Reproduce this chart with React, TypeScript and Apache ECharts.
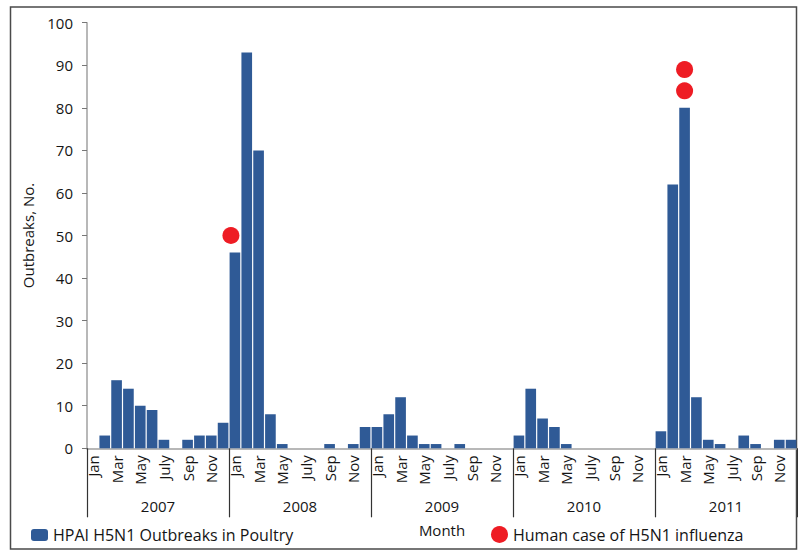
import React, { useEffect, useRef } from "react";
import * as echarts from "echarts";

const years = ["2007", "2008", "2009", "2010", "2011"];
const monthNames = ["Jan", "Feb", "Mar", "Apr", "May", "Jun", "July", "Aug", "Sep", "Oct", "Nov", "Dec"];

const outbreaks2007 = [0, 3, 16, 14, 10, 9, 2, 0, 2, 3, 3, 6];
const outbreaks2008 = [46, 93, 70, 8, 1, 0, 0, 0, 1, 0, 1, 5];
const outbreaks2009 = [5, 8, 12, 3, 1, 1, 0, 1, 0, 0, 0, 0];
const outbreaks2010 = [3, 14, 7, 5, 1, 0, 0, 0, 0, 0, 0, 0];
const outbreaks2011 = [4, 62, 80, 12, 2, 1, 0, 3, 1, 0, 2, 2];

// human cases: [year, month index (0-11), plotted height]
const humanCaseYear = ["2008", "2011", "2011"];
const humanCaseMonth = [0, 2, 2];
const humanCaseValue = [50, 84, 89];

const yTicks = [0, 10, 20, 30, 40, 50, 60, 70, 80, 90, 100];

const FONT = "Open Sans";
const TXT = "#151515";

export default function App() {
  const ref = useRef<HTMLDivElement>(null);

  useEffect(() => {
    document.body.style.margin = "0";
    if (!ref.current) return;
    const chart = echarts.init(ref.current, null, { renderer: "svg" });

    const categories: string[] = [];
    years.forEach((y) => monthNames.forEach((m) => categories.push(y + "|" + m)));
    const values = [
      ...outbreaks2007,
      ...outbreaks2008,
      ...outbreaks2009,
      ...outbreaks2010,
      ...outbreaks2011,
    ];
    const humanData = humanCaseYear.map((y, i) => {
      const idx = years.indexOf(y) * 12 + humanCaseMonth[i];
      const item: any = { value: [idx, humanCaseValue[i]] };
      if (y === "2008") item.symbolOffset = [-4, 0];
      return item;
    });

    const barName = "HPAI H5N1 Outbreaks in Poultry";
    const dotName = "Human case of H5N1 influenza";

    chart.setOption({
      animation: false,
      textStyle: { fontFamily: FONT },
      graphic: [
        {
          type: "rect",
          shape: { x: 10.5, y: 7, width: 786, height: 542 },
          style: { fill: "none", stroke: "#4a4a4a", lineWidth: 1.5 },
          silent: true,
        },
      ],
      grid: { left: 87, right: 1, top: 22.7, bottom: 102.7, containLabel: false },
      legend: [
        {
          data: [barName],
          left: 31,
          top: 527,
          padding: 0,
          itemWidth: 17,
          itemHeight: 12,
          itemGap: 5,
          textStyle: { fontSize: 16, color: TXT, fontFamily: FONT },
        },
        {
          data: [{ name: dotName, icon: "circle" }],
          left: 491,
          top: 526,
          padding: 0,
          itemWidth: 17,
          itemHeight: 17,
          textStyle: { fontSize: 16, color: TXT, fontFamily: FONT },
        },
      ],
      xAxis: [
        {
          type: "category",
          data: categories,
          position: "bottom",
          axisLine: { show: true, lineStyle: { color: "#a0a0a0", width: 1.5 } },
          axisTick: { show: false },
          axisLabel: {
            interval: 1,
            rotate: 90,
            margin: 7,
            fontSize: 15,
            color: TXT,
            fontFamily: FONT,
            formatter: (v: string) => v.split("|")[1],
          },
          splitLine: { show: false },
        },
        {
          type: "category",
          data: years,
          position: "bottom",
          offset: 0,
          axisLine: { show: false },
          axisTick: { show: true, length: 69, lineStyle: { color: "#333", width: 1.2 } },
          axisLabel: { margin: 50, fontSize: 15, color: TXT, fontFamily: FONT },
          name: "Month",
          nameLocation: "middle",
          nameGap: 74,
          nameTextStyle: { fontSize: 15, color: TXT, fontFamily: FONT },
          splitLine: { show: false },
        },
      ],
      yAxis: {
        type: "value",
        min: 0,
        max: 100,
        interval: 10,
        name: "Outbreaks, No.",
        nameLocation: "middle",
        nameGap: 52,
        nameTextStyle: { fontSize: 15, color: TXT, fontFamily: FONT },
        axisLine: { show: true, lineStyle: { color: "#a0a0a0", width: 1.5 } },
        axisTick: { show: true, length: 5, lineStyle: { color: "#777" } },
        axisLabel: {
          margin: 14,
          fontSize: 15,
          color: TXT,
          fontFamily: FONT,
          customValues: yTicks,
        },
        splitLine: { show: false },
      },
      series: [
        {
          name: barName,
          type: "bar",
          xAxisIndex: 0,
          data: values,
          barCategoryGap: "10%",
          itemStyle: { color: "#2f5a96" },
        },
        {
          name: dotName,
          type: "scatter",
          xAxisIndex: 0,
          data: humanData,
          symbol: "circle",
          symbolSize: 17,
          itemStyle: { color: "#ee1c24", opacity: 1 },
          z: 5,
        },
      ],
    });

    return () => chart.dispose();
  }, []);

  return <div ref={ref} style={{ width: 798, height: 551 }} />;
}
